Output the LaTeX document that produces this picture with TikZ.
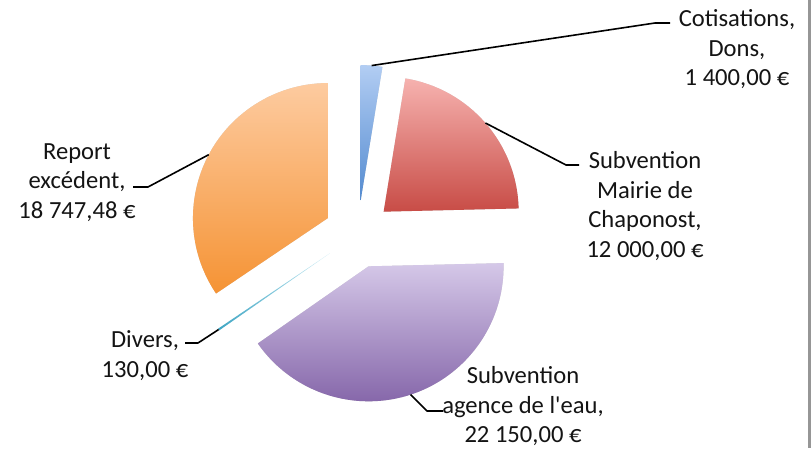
\documentclass[tikz,border=0pt]{standalone}
\usepackage{fontspec}
\setmainfont{Carlito}
\usetikzlibrary{calc}
\definecolor{cotT}{RGB}{178,205,243}
\definecolor{cotB}{RGB}{84,139,208}
\definecolor{maiT}{RGB}{246,178,175}
\definecolor{maiB}{RGB}{200,76,70}
\definecolor{ageT}{RGB}{213,200,232}
\definecolor{ageB}{RGB}{134,103,170}
\definecolor{repT}{RGB}{253,203,160}
\definecolor{repB}{RGB}{245,147,52}
\definecolor{divT}{RGB}{200,235,245}
\definecolor{divB}{RGB}{62,165,195}
\definecolor{txt}{RGB}{20,20,20}
\definecolor{frame}{RGB}{150,150,150}
\begin{document}
\begin{tikzpicture}[x=1pt,y=1pt,
  lbl/.style={align=center, anchor=base, inner sep=0pt, text=txt,
    font=\fontsize{24.6}{29.5}\selectfont},
  leader/.style={line width=1.6pt, black, line join=round},
  pieslice/.style n args={3}{insert path={(#1) -- ++(#2:135) arc[start angle=#2, end angle=#3, radius=135] -- cycle}},
  shadowfill/.style={fill=black, opacity=0.045},
]
\useasboundingbox (0,0) rectangle (811,448);
\fill[white] (0,0) rectangle (811,448);
\coordinate (C) at (358,214);
% slice apexes (exploded along bisectors)
\coordinate (aCot) at ($(C)+(85.37:34)$);
\coordinate (aMai) at ($(C)+(41.055:34)$);
\coordinate (aAge) at ($(C)+(-71.885:34)$);
\coordinate (aDiv) at ($(C)+(-145.57:34)$);
\coordinate (aRep) at ($(C)+(-208:34)$);
% soft shadows
\foreach \s in {1,2,3,4}{
  \fill[shadowfill, shift={(\s*0.7,-\s*0.9)}, pieslice={aCot}{90}{80.74}];
  \fill[shadowfill, shift={(\s*0.7,-\s*0.9)}, pieslice={aMai}{80.74}{1.37}];
  \fill[shadowfill, shift={(\s*0.7,-\s*0.9)}, pieslice={aAge}{1.37}{-145.14}];
  \fill[shadowfill, shift={(\s*0.7,-\s*0.9)}, pieslice={aRep}{-146}{-270}];
}
% slices
\shade[top color=cotT, bottom color=cotB, pieslice={aCot}{90}{80.74}];
\shade[top color=maiT, bottom color=maiB, pieslice={aMai}{80.74}{1.37}];
\shade[top color=ageT, bottom color=ageB, pieslice={aAge}{1.37}{-145.14}];
\shade[top color=divT, bottom color=divB, pieslice={aDiv}{-145.14}{-146}];
\shade[top color=repT, bottom color=repB, pieslice={aRep}{-146}{-270}];
% labels
\node[lbl] (cotL) at (737,362) {Cotisations,\\Dons,\\1 400,00 €};
\node[lbl] (maiL) at (645,191) {Subvention\\Mairie de\\Chaponost,\\12 000,00 €};
\node[lbl] (ageL) at (523,5.5) {Subvention\\agence de l\textquotesingle eau,\\22 150,00 €};
\node[lbl] (divL) at (145,71) {Divers,\\130,00 €};
\node[lbl] (repL) at (77,230) {Report\\excédent,\\18 747,48 €};
% leader points
\coordinate (cotS) at ($(aCot)+(85.37:135)$);
\coordinate (cotK) at (655,425);
\coordinate (cotE) at (670,425);
\coordinate (maiS) at ($(aMai)+(41.055:135)$);
\coordinate (maiK) at (566,283);
\coordinate (maiE) at (579,283);
\coordinate (ageS) at ($(aAge)+(-71.885:135)$);
\coordinate (ageK) at (427,37);
\coordinate (ageE) at (443,37);
\coordinate (divS) at ($(aDiv)+(-145.57:135)$);
\coordinate (divK) at (198,105);
\coordinate (divE) at (185,105);
\coordinate (repS) at ($(aRep)+(-208:135)$);
\coordinate (repK) at (148,261);
\coordinate (repE) at (133,261);
\draw[leader] (cotS) -- (cotK) -- (cotE);
\draw[leader] (maiS) -- (maiK) -- (maiE);
\draw[leader] (ageS) -- (ageK) -- (ageE);
\draw[leader] (divS) -- (divK) -- (divE);
\draw[leader] (repS) -- (repK) -- (repE);
% right frame edge
\fill[frame] (808,0) rectangle (810.6,448);
\end{tikzpicture}
\end{document}
